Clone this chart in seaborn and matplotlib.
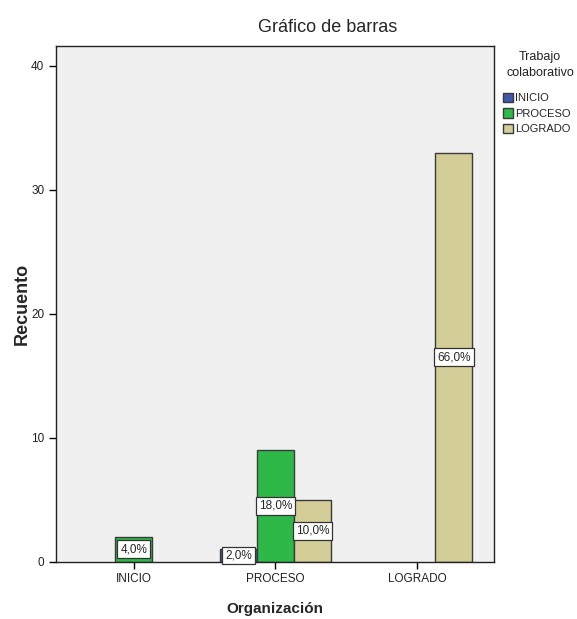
import matplotlib
matplotlib.use("Agg")
import matplotlib.pyplot as plt
import seaborn as sns
import pandas as pd

organizacion = ["INICIO", "PROCESO", "LOGRADO"]
trabajo = ["INICIO", "PROCESO", "LOGRADO"]
# counts[org][trabajo]
recuento_inicio = [0, 2, 0]
recuento_proceso = [1, 9, 5]
recuento_logrado = [0, 0, 33]
colores = ["#3E58AC", "#2EB848", "#D3CE97"]
yticks = [0, 10, 20, 30, 40]

rows = []
for org, vals in zip(organizacion, [recuento_inicio, recuento_proceso, recuento_logrado]):
    for t, v in zip(trabajo, vals):
        rows.append({"Organización": org, "Trabajo colaborativo": t, "Recuento": v})
df = pd.DataFrame(rows)
total = df["Recuento"].sum()
df_plot = df[df["Recuento"] > 0]

sns.set_style("white")
plt.rcParams["font.family"] = ["Liberation Sans", "DejaVu Sans"]

fig = plt.figure(figsize=(5.77, 6.19), dpi=100)
ax = fig.add_axes([0.097, 0.0926, 0.759, 0.833])
ax.set_facecolor("#F0F0F0")

sns.barplot(data=df_plot, x="Organización", y="Recuento", hue="Trabajo colaborativo",
            order=organizacion, hue_order=trabajo, palette=colores, saturation=1,
            width=0.785, edgecolor="#3a3a3a", linewidth=1.0, ax=ax, errorbar=None)

for cont in ax.containers:
    labels = [f"{p.get_height() / total * 100:.1f}%".replace(".", ",") for p in cont]
    ax.bar_label(cont, labels=labels, label_type="center", fontsize=8.5,
                 bbox=dict(boxstyle="square,pad=0.25", facecolor="white",
                           edgecolor="#333333", linewidth=0.9))

ax.set_xlim(-0.55, 2.544)
ax.set_ylim(0, 41.6)
ax.set_yticks(yticks)
ax.tick_params(axis="both", direction="out", length=5, width=1, color="black",
               labelsize=8.5, bottom=True, left=True, labelcolor="#222222")
for s in ax.spines.values():
    s.set_color("#222222")
    s.set_linewidth(1.0)

ax.set_xlabel("Organización", fontsize=11, fontweight="bold", labelpad=12)
ax.set_ylabel("Recuento", fontsize=13, fontweight="bold", labelpad=0)

fig.text(328 / 577, 1 - 27 / 619, "Gráfico de barras", ha="center", va="center", fontsize=13)

sns.move_legend(ax, loc="upper left", bbox_to_anchor=(1.005, 0.922),
                title=None, frameon=False, fontsize=8,
                handlelength=0.9, handleheight=0.9,
                handletextpad=0.2, labelspacing=0.45, borderaxespad=0.2)
fig.text(540 / 577, 1 - 65 / 619, "Trabajo\ncolaborativo", ha="center", va="center",
         multialignment="center", fontsize=9, linespacing=1.4, color="#222222")

fig.savefig("out.png", dpi=100, facecolor="white")
